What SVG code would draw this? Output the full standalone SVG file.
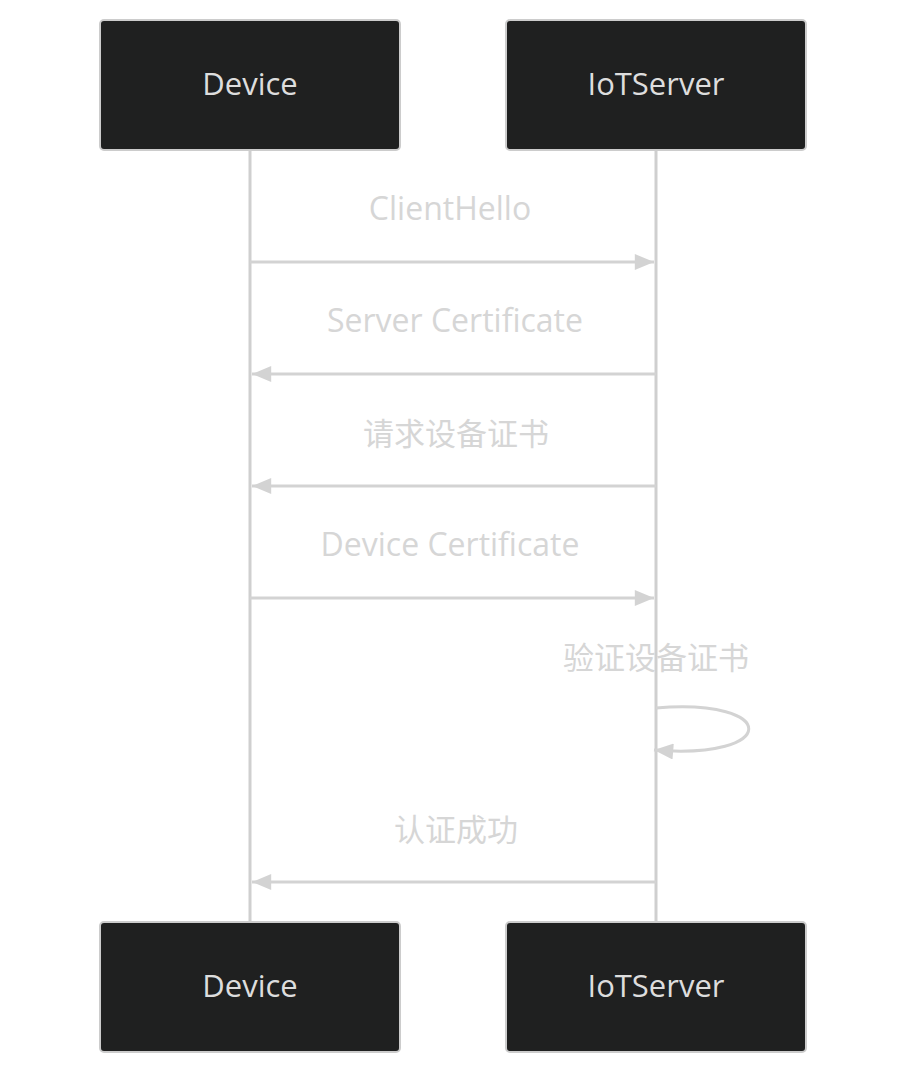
<svg xmlns="http://www.w3.org/2000/svg" width="908" height="1074" viewBox="0 0 908 1074">
<style>
.actor rect{fill:#1f2020;stroke:#cccccc;stroke-width:2}
.actor text{fill:#dddddd;font-family:"Open Sans","Liberation Sans",sans-serif;font-size:31px;text-anchor:middle;dominant-baseline:central}
.life{stroke:#cfcfcf;stroke-width:3}
.msg{stroke:#d3d3d3;stroke-width:3;fill:none}
.lbl{fill:#d6d6d6;font-family:"Open Sans","Noto Sans CJK SC",sans-serif;font-size:32px;text-anchor:middle;dominant-baseline:central}
.cjk{font-family:"Noto Sans CJK SC",sans-serif;font-size:31px}
</style>
<defs>
<marker id="arr" viewBox="0 0 12 10" refX="12" refY="5" markerWidth="22" markerHeight="16" markerUnits="userSpaceOnUse" orient="auto">
<path d="M0,0 L12,5 L0,10 z" fill="#d3d3d3"/>
</marker>
</defs>
<g id="lifelines">
<line class="life" x1="250" y1="150" x2="250" y2="922"/>
<line class="life" x1="656" y1="150" x2="656" y2="922"/>
</g>
<g id="device-top" class="actor"><rect x="100" y="20" width="300" height="130" rx="4"/><text x="250" y="83">Device</text></g>
<g id="iotserver-top" class="actor"><rect x="506" y="20" width="300" height="130" rx="4"/><text x="656" y="83">IoTServer</text></g>
<g id="device-bottom" class="actor"><rect x="100" y="922" width="300" height="130" rx="4"/><text x="250" y="985">Device</text></g>
<g id="iotserver-bottom" class="actor"><rect x="506" y="922" width="300" height="130" rx="4"/><text x="656" y="985">IoTServer</text></g>
<g id="connectors">
<line class="msg" x1="250" y1="262" x2="654" y2="262" marker-end="url(#arr)"/>
<line class="msg" x1="656" y1="374" x2="252" y2="374" marker-end="url(#arr)"/>
<line class="msg" x1="656" y1="486" x2="252" y2="486" marker-end="url(#arr)"/>
<line class="msg" x1="250" y1="598" x2="654" y2="598" marker-end="url(#arr)"/>
<path class="msg" d="M656,708 C780,698 780,760 654,750" marker-end="url(#arr)"/>
<line class="msg" x1="656" y1="882" x2="252" y2="882" marker-end="url(#arr)"/>
</g>
<g id="labels">
<text class="lbl" x="450" y="207">ClientHello</text>
<text class="lbl" x="455" y="319">Server Certificate</text>
<text class="lbl cjk" x="456" y="431">请求设备证书</text>
<text class="lbl" x="450" y="543">Device Certificate</text>
<text class="lbl cjk" x="656" y="655">验证设备证书</text>
<text class="lbl cjk" x="456" y="827">认证成功</text>
</g>
</svg>
